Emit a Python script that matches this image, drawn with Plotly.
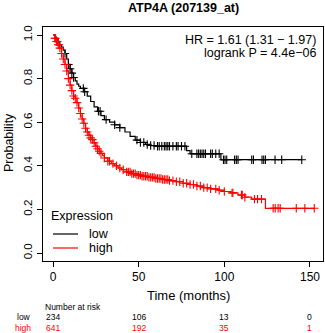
import plotly.graph_objects as go

# ---- data ----
low_t = [0, 1, 2, 3, 4, 5, 6, 7, 8, 9, 10, 11, 12, 13, 14, 15, 16, 18, 20, 22, 24, 26, 28, 30,
         33, 36, 39, 42, 45, 48, 51, 54, 57, 60, 78, 80, 98, 145.2]
low_s = [1.0, 0.99, 0.98, 0.97, 0.955, 0.945, 0.93, 0.915, 0.89, 0.865, 0.845, 0.825, 0.805,
         0.79, 0.775, 0.765, 0.755, 0.74, 0.72, 0.695, 0.67, 0.65, 0.63, 0.612, 0.6, 0.588,
         0.575, 0.555, 0.535, 0.518, 0.507, 0.498, 0.493, 0.49, 0.47, 0.455, 0.428, 0.428]
low_cens = [7, 9, 10, 11, 12, 17.7, 18.5, 26.5, 27.5, 31, 36, 39, 49, 51, 53, 55, 57, 59, 61, 62,
            63.5, 65, 66, 67, 68, 70, 72, 73, 75, 77, 81, 84, 85, 86, 87, 88, 89, 92, 93, 95, 97,
            99.5, 100.4, 101.4, 106, 107, 108, 116, 117, 122, 123, 124, 129.6, 133.5, 145.2]

high_t = [0, 1, 2, 3, 4, 5, 6, 7, 8, 9, 10, 11, 12, 13, 14, 15, 16, 17, 18, 19, 20, 21, 22, 23,
          24, 25, 26, 27, 28, 29, 30, 32, 34, 36, 38, 40, 43, 46, 49, 52, 56, 60, 64, 68, 72, 76,
          80, 84, 88, 92, 96, 100, 104, 108, 112, 116, 124, 152.5]
high_s = [1.0, 0.985, 0.97, 0.955, 0.94, 0.915, 0.89, 0.865, 0.835, 0.80, 0.77, 0.745, 0.72,
          0.71, 0.69, 0.665, 0.64, 0.615, 0.595, 0.572, 0.555, 0.54, 0.528, 0.52, 0.505, 0.49,
          0.478, 0.467, 0.457, 0.446, 0.436, 0.421, 0.41, 0.4, 0.39, 0.382, 0.372, 0.364, 0.357,
          0.352, 0.347, 0.342, 0.337, 0.332, 0.327, 0.32, 0.314, 0.307, 0.3, 0.294, 0.288, 0.282,
          0.276, 0.266, 0.256, 0.247, 0.205, 0.205]
high_cens = [1, 1.5, 2, 2.5, 3, 3.5, 4, 5, 6, 7, 8, 9, 10, 11, 12, 13, 14, 15, 16, 17, 18, 19, 20,
             21, 22, 23, 24, 25, 26, 27, 28, 30, 32, 33, 35, 37, 39, 41, 43, 44, 45, 46, 47, 48, 49,
             50, 51, 52, 53, 54, 55, 56, 57, 58, 59, 60, 61, 62, 63, 64, 65, 66, 67, 68, 70, 72,
             74, 76, 78, 80, 82, 84, 86, 88, 90, 92, 95, 97, 100, 104.5, 105, 110, 110.5, 112,
             117.6, 119.4, 121.7, 128.5, 129.7, 131.4, 132.6, 142, 147, 152.5]

risk_times = [0, 50, 100, 150]
risk_low = [234, 106, 13, 0]
risk_high = [641, 192, 35, 1]

title = "ATP4A (207139_at)"
hr_text = "HR = 1.61 (1.31 \u2212 1.97)"
p_text = "logrank P = 4.4e\u221206"

RED = "#FF0000"
FONT = "Liberation Sans"


def km_at(t, times, surv):
    val = surv[0]
    for tt, ss in zip(times, surv):
        if tt <= t:
            val = ss
        else:
            break
    return val


fig = go.Figure()
for times, surv, cens, col in [(low_t, low_s, low_cens, "black"),
                               (high_t, high_s, high_cens, RED)]:
    fig.add_trace(go.Scatter(x=times, y=surv, mode="lines", line_shape="hv",
                             line=dict(color=col, width=1.2), hoverinfo="skip"))
    fig.add_trace(go.Scatter(x=cens, y=[km_at(c, times, surv) for c in cens], mode="markers",
                             marker=dict(symbol="cross-thin", size=6,
                                         line=dict(color=col, width=1.1)),
                             hoverinfo="skip"))

L, R, T, B = 43, 2, 27, 72
W, H = 325, 333
PW, PH = W - L - R, H - T - B


def px(x):
    return (x - L) / PW


def py(y):
    return (H - B - y) / PH


ann = []
ann.append(dict(text="<b>" + title + "</b>", x=px(183), y=py(8), font=dict(size=12.5)))
ann.append(dict(text=hr_text, x=px(318), y=py(40), xanchor="right", font=dict(size=12.5)))
ann.append(dict(text=p_text, x=px(318), y=py(53), xanchor="right", font=dict(size=12.5)))
ann.append(dict(text="Probability", x=px(9), y=py(143), textangle=-90, font=dict(size=12.5)))
ann.append(dict(text="Time (months)", x=px(188), y=py(295), font=dict(size=13)))
ann.append(dict(text="Expression", x=px(49), y=py(216), xanchor="left", font=dict(size=12.5)))
ann.append(dict(text="low", x=px(87), y=py(234), xanchor="left", font=dict(size=12.5)))
ann.append(dict(text="high", x=px(87), y=py(248), xanchor="left", font=dict(size=12.5)))
ann.append(dict(text="Number at risk", x=px(43), y=py(307), xanchor="left", font=dict(size=8.5)))
ann.append(dict(text="low", x=px(33), y=py(317), xanchor="right", font=dict(size=8.5)))
ann.append(dict(text="high", x=px(33), y=py(328), xanchor="right",
                font=dict(size=8.5, color=RED)))
for t, n in zip(risk_times, risk_low):
    ann.append(dict(text=str(n), x=t, xref="x", y=py(317), font=dict(size=8.5)))
for t, n in zip(risk_times, risk_high):
    ann.append(dict(text=str(n), x=t, xref="x", y=py(328), font=dict(size=8.5, color=RED)))

for a in ann:
    a.setdefault("xref", "paper")
    a.setdefault("yref", "paper")
    a.setdefault("xanchor", "center")
    a["yanchor"] = "middle"
    a["showarrow"] = False
    a["font"].setdefault("color", "black")
    a["font"]["family"] = FONT

shapes = [
    dict(type="line", xref="paper", yref="paper", x0=px(53), x1=px(78), y0=py(234), y1=py(234),
         line=dict(color="black", width=1.2)),
    dict(type="line", xref="paper", yref="paper", x0=px(53), x1=px(78), y0=py(248), y1=py(248),
         line=dict(color=RED, width=1.2)),
]

fig.update_layout(
    width=W, height=H, margin=dict(l=L, r=R, t=T, b=B),
    plot_bgcolor="white", paper_bgcolor="white", showlegend=False,
    font=dict(family=FONT, color="black", size=12),
    annotations=ann, shapes=shapes, hovermode=False,
)
fig.update_xaxes(range=[-5.84, 157.6], tickvals=risk_times, ticks="outside", ticklen=5,
                 tickcolor="black", showline=True, linecolor="black", linewidth=1, mirror=True,
                 showgrid=False, zeroline=False, tickfont=dict(size=12))
fig.update_yaxes(range=[-0.0367, 1.0367], tickvals=[0, 0.2, 0.4, 0.6, 0.8, 1.0],
                 ticktext=["0.0", "0.2", "0.4", "0.6", "0.8", "1.0"], tickangle=-90,
                 ticks="outside", ticklen=5, tickcolor="black", showline=True,
                 linecolor="black", linewidth=1, mirror=True, showgrid=False, zeroline=False,
                 tickfont=dict(size=11.5))

fig.write_html("out.html", config={"displayModeBar": False},
               post_script="document.body.style.margin='0';document.body.style.overflow='hidden';")
